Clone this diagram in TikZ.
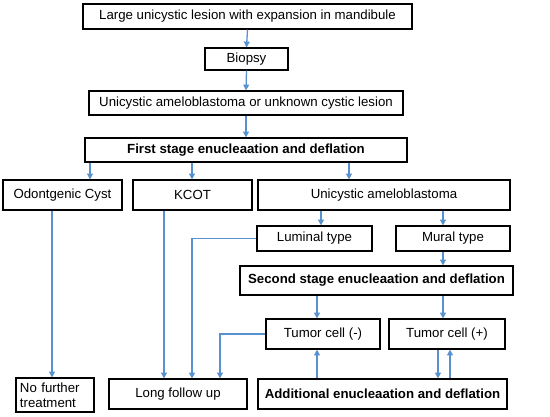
\documentclass[tikz,border=0pt]{standalone}
\usepackage{fontspec}
\setmainfont{Liberation Sans}
\usetikzlibrary{arrows.meta}
\definecolor{arrblue}{RGB}{88,145,208}

\begin{document}
\begin{tikzpicture}[x=0.03cm, y=-0.03cm, every node/.style={font=\fontsize{11.3}{12.6}\selectfont},
    box/.style={draw, line width=0.9pt, inner sep=0pt, align=center},
    bbox/.style={box, font=\fontsize{11.3}{12.6}\selectfont\bfseries},
    arr/.style={arrblue, line width=1.1pt, -{Triangle[length=5pt, width=5pt]}}]
    \useasboundingbox (0,0) rectangle (550,417);

    % first column of boxes
    \node[box, minimum width=9.87cm, minimum height=0.75cm] (lesion) at (247.5,16.5) {Large unicystic lesion with expansion in mandibule};
    \node[box, minimum width=2.49cm, minimum height=0.66cm] (biopsy) at (246.5,59) {Biopsy};
    \node[box, minimum width=9.42cm, minimum height=0.72cm] (diag) at (246,103) {Unicystic ameloblastoma or unknown cystic lesion};
    \node[bbox, minimum width=9.66cm, minimum height=0.72cm] (first) at (246,150) {First stage enucleaation and deflation};

    \node[box, minimum width=3.57cm, minimum height=0.9cm] (cyst) at (62.5,195) {Odontgenic Cyst};
    \node[box, minimum width=3.57cm, minimum height=0.9cm] (kcot) at (192.5,195) {KCOT};
    \node[box, minimum width=7.56cm, minimum height=0.9cm] (uniam) at (384,195) {Unicystic ameloblastoma};

    \node[box, minimum width=3.45cm, minimum height=0.75cm] (luminal) at (314.5,238.5) {Luminal type};
    \node[box, minimum width=3.42cm, minimum height=0.75cm] (mural) at (453,238.5) {Mural type};
    \node[bbox, minimum width=8.19cm, minimum height=0.87cm] (second) at (376.5,280.5) {Second stage enucleaation and deflation};

    \node[box, minimum width=3.42cm, minimum height=0.9cm] (tneg) at (323,334) {Tumor cell (-)};
    \node[box, minimum width=3.48cm, minimum height=0.9cm] (tpos) at (447,334) {Tumor cell (+)};

    \node[box, minimum width=2.34cm, minimum height=1.02cm, align=left, text width=2.1cm] (nofurther) at (55,395) {No further\\treatment};
    \node[box, minimum width=4.14cm, minimum height=0.9cm] (follow) at (178,394) {Long follow up};
    \node[bbox, minimum width=7.47cm, minimum height=0.9cm] (additional) at (382.5,394) {Additional enucleaation and deflation};

    % x positions of the connectors
    \coordinate (x52) at (52,0);
    \coordinate (x90) at (90,0);
    \coordinate (x164) at (164,0);
    \coordinate (x192) at (192,0);
    \coordinate (x220) at (220,0);
    \coordinate (x317) at (317,0);
    \coordinate (x321) at (321,0);
    \coordinate (x349) at (349,0);
    \coordinate (x438) at (438,0);
    \coordinate (x443) at (443,0);
    \coordinate (x450) at (450,0);

    \draw[arr] (lesion.south) -- (biopsy.north);
    \draw[arr] (biopsy.south) -- (diag.north);
    \draw[arr] (diag.south) -- (first.north);

    \draw[arr] (first.south -| x90) -- (cyst.north -| x90);
    \draw[arr] (first.south -| x192) -- (kcot.north -| x192);
    \draw[arr] (first.south -| x349) -- (uniam.north -| x349);

    \draw[arr] (uniam.south -| x321) -- (luminal.north -| x321);
    \draw[arr] (uniam.south -| x443) -- (mural.north -| x443);
    \draw[arr] (mural.south -| x443) -- (second.north -| x443);

    \draw[arr] (second.south -| x317) -- (tneg.north -| x317);
    \draw[arr] (second.south -| x443) -- (tpos.north -| x443);

    % routes to the bottom row
    \draw[arr] (cyst.south -| x52) -- (nofurther.north -| x52);
    \draw[arr] (kcot.south -| x164) -- (follow.north -| x164);
    \draw[arr] (luminal.west) -- (luminal.west -| x192) -- (follow.north -| x192);
    \draw[arr] (tneg.west) -- (tneg.west -| x220) -- (follow.north -| x220);

    \draw[arr] (additional.north -| x317) -- (tneg.south -| x317);
    \draw[arr] (tpos.south -| x438) -- (additional.north -| x438);
    \draw[arr] (additional.north -| x450) -- (tpos.south -| x450);
\end{tikzpicture}
\end{document}
